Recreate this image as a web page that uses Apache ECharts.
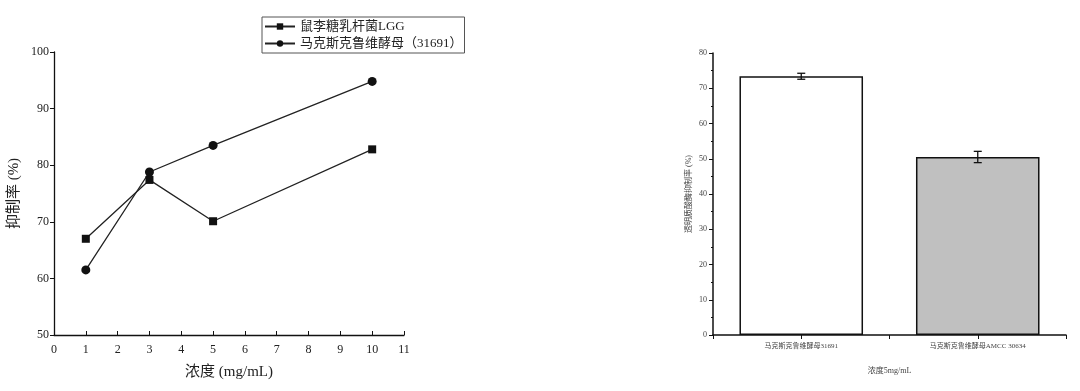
<!DOCTYPE html>
<html>
<head>
<meta charset="utf-8">
<script src="https://cdn.jsdelivr.net/npm/echarts@6/dist/echarts.min.js"></script>
<style>
html,body{margin:0;padding:0;background:#fff;}
#c{width:1080px;height:391px;}
</style>
</head>
<body>
<div id="c"></div>
<script>
// Left chart data
var lineSeriesNames = ['鼠李糖乳杆菌LGG', '马克斯克鲁维酵母（31691）'];
var concentrations = [1, 3, 5, 10];
var lggValues = [67.0, 77.4, 70.1, 82.8];
var yeastValues = [61.5, 78.8, 83.5, 94.8];

// Right chart data
var barCategories = ['马克斯克鲁维酵母31691', '马克斯克鲁维酵母AMCC 30634'];
var barPositions = [1, 2];
var barValues = [73.4, 50.5];
var barErrors = [0.85, 1.6];
var barColors = ['#ffffff', '#c0c0c0'];

var serif = '"Liberation Serif", "Times New Roman", "Noto Sans CJK SC", serif';
var textColor = '#222';

function pairs(xs, ys) { return xs.map(function (x, i) { return [x, ys[i]]; }); }

var chart = echarts.init(document.getElementById('c'));
var option = {
  animation: false,
  backgroundColor: '#fff',
  textStyle: { fontFamily: serif, color: textColor },
  grid: [
    { left: 54, right: 676, top: 52, bottom: 56 },
    { left: 713, right: 14, top: 53, bottom: 56 }
  ],
  legend: {
    data: lineSeriesNames,
    orient: 'vertical',
    left: 262, top: 17,
    itemWidth: 30, itemHeight: 8, itemGap: 4,
    padding: [3, 2, 3, 2],
    borderColor: '#555', borderWidth: 1,
    textStyle: { fontFamily: serif, fontSize: 13, color: textColor }
  },
  xAxis: [
    {
      gridIndex: 0, type: 'value', min: 0, max: 11, interval: 1,
      name: '浓度 (mg/mL)', nameLocation: 'middle', nameGap: 30,
      nameTextStyle: { fontFamily: serif, fontSize: 15, color: textColor },
      axisLine: { lineStyle: { color: '#111', width: 1.3 } },
      axisTick: { inside: true, length: 4, lineStyle: { color: '#111' } },
      axisLabel: { fontFamily: serif, fontSize: 12, color: textColor, margin: 9 },
      splitLine: { show: false }
    },
    {
      gridIndex: 1, type: 'value', min: 0.5, max: 2.5, interval: 0.5,
      name: '浓度5mg/mL', nameLocation: 'middle', nameGap: 32,
      nameTextStyle: { fontFamily: serif, fontSize: 8, color: '#444' },
      axisLine: { onZero: false, lineStyle: { color: '#111', width: 1.5 } },
      axisTick: { length: 4, lineStyle: { color: '#111', width: 1 } },
      axisLabel: {
        fontFamily: serif, fontSize: 7, color: '#444', margin: 8,
        showMinLabel: true, showMaxLabel: true,
        formatter: function (v) {
          var i = barPositions.indexOf(v);
          return i >= 0 ? barCategories[i] : '';
        }
      },
      splitLine: { show: false }
    }
  ],
  yAxis: [
    {
      gridIndex: 0, type: 'value', min: 50, max: 100, interval: 10,
      name: '抑制率 (%)', nameLocation: 'middle', nameGap: 32,
      nameTextStyle: { fontFamily: serif, fontSize: 15, color: textColor },
      axisLine: { show: true, lineStyle: { color: '#111', width: 1.3 } },
      axisTick: { show: true, length: 4, lineStyle: { color: '#111' } },
      axisLabel: { fontFamily: serif, fontSize: 12, color: textColor, margin: 5 },
      splitLine: { show: false }
    },
    {
      gridIndex: 1, type: 'value', min: 0, max: 80, interval: 10,
      name: '透明质酸酶抑制率 (%)', nameLocation: 'middle', nameGap: 20,
      nameTextStyle: { fontFamily: serif, fontSize: 8, color: '#444' },
      axisLine: { show: true, lineStyle: { color: '#111', width: 1.5 } },
      axisTick: { show: true, length: 4, lineStyle: { color: '#111' } },
      minorTick: { show: true, splitNumber: 2, length: 2, lineStyle: { color: '#111' } },
      axisLabel: { fontFamily: serif, fontSize: 8, color: '#444', margin: 6 },
      splitLine: { show: false }
    }
  ],
  series: [
    {
      name: lineSeriesNames[0], type: 'line', xAxisIndex: 0, yAxisIndex: 0,
      data: pairs(concentrations, lggValues),
      symbol: 'rect', symbolSize: 8,
      lineStyle: { color: '#222', width: 1.3 },
      itemStyle: { color: '#111' }
    },
    {
      name: lineSeriesNames[1], type: 'line', xAxisIndex: 0, yAxisIndex: 0,
      data: pairs(concentrations, yeastValues),
      symbol: 'circle', symbolSize: 9,
      lineStyle: { color: '#222', width: 1.3 },
      itemStyle: { color: '#111' }
    },
    {
      type: 'bar', xAxisIndex: 1, yAxisIndex: 1,
      barWidth: '70%',
      data: barPositions.map(function (p, i) {
        return { value: [p, barValues[i]], itemStyle: { color: barColors[i], borderColor: '#111', borderWidth: 1.5 } };
      })
    },
    {
      type: 'custom', xAxisIndex: 1, yAxisIndex: 1, z: 10,
      data: barPositions.map(function (p, i) { return [p, barValues[i], barErrors[i]]; }),
      renderItem: function (params, api) {
        var x = api.value(0), y = api.value(1), e = api.value(2);
        var hi = api.coord([x, y + e]);
        var lo = api.coord([x, y - e]);
        var w = 4;
        var st = { stroke: '#111', lineWidth: 1.3 };
        return {
          type: 'group',
          children: [
            { type: 'line', shape: { x1: hi[0], y1: hi[1], x2: lo[0], y2: lo[1] }, style: st },
            { type: 'line', shape: { x1: hi[0] - w, y1: hi[1], x2: hi[0] + w, y2: hi[1] }, style: st },
            { type: 'line', shape: { x1: lo[0] - w, y1: lo[1], x2: lo[0] + w, y2: lo[1] }, style: st }
          ]
        };
      }
    }
  ]
};
chart.setOption(option);
</script>
</body>
</html>
